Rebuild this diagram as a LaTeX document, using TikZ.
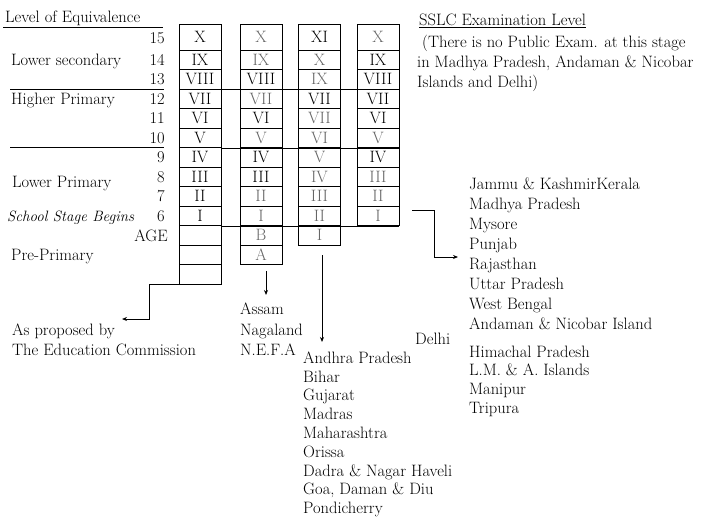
\documentclass[tikz,border=0pt]{standalone}
\usetikzlibrary{arrows.meta}
\begin{document}
\begin{tikzpicture}[x=1pt,y=-1pt,
  every node/.style={font=\fontsize{16.5}{19.5}\selectfont},
  cell/.style={draw,line width=0.9pt,minimum width=42pt,minimum height=19.5pt,inner sep=0pt},
  topcell/.style={cell,minimum height=26pt},
  dim/.style={text=black!60},
  lbl/.style={inner sep=0pt},
  rule/.style={line width=0.9pt},
  arr/.style={line width=0.9pt,-{Stealth[length=5pt,width=4pt]}}]
\useasboundingbox (0,0) rectangle (709,519);
            % Levels
\node[lbl,anchor=base west] (loe) at (5,22.5) {Level of Equivalence};
\node[lbl,anchor=base west] (ls) at (11,66) {Lower secondary};
\node[lbl,anchor=base west] (hp) at (11,104.5) {Higher Primary};
\node[lbl,anchor=base west] (lp) at (12,187) {Lower Primary};
\node[lbl,anchor=base west,font=\fontsize{15}{18}\selectfont\itshape] (ssb) at (7,221.5) {School Stage Begins};
\node[lbl,anchor=base west] (pp) at (11,260) {Pre-Primary};
\node[lbl,anchor=base east] (n15) at (165,44) {15};
\node[lbl,anchor=base east] (n14) at (165,65.5) {14};
\node[lbl,anchor=base east] (n13) at (165,84.5) {13};
\node[lbl,anchor=base east] (n12) at (165,104) {12};
\node[lbl,anchor=base east] (n11) at (165,123.5) {11};
\node[lbl,anchor=base east] (n10) at (165,143) {10};
\node[lbl,anchor=base east] (n9) at (165,162.5) {9};
\node[lbl,anchor=base east] (n8) at (165,182) {8};
\node[lbl,anchor=base east] (n7) at (165,201.5) {7};
\node[lbl,anchor=base east] (n6) at (165,221) {6};
\node[lbl,anchor=base east] (age) at (168,241) {AGE};
%Education Commission
\node[topcell] (a15) at (200,37) {X};
\node[cell] (a14) at (200,59.75) {IX};
\node[cell] (a13) at (200,79.25) {VIII};
\node[cell] (a12) at (200,98.75) {VII};
\node[cell] (a11) at (200,118.25) {VI};
\node[cell] (a10) at (200,137.75) {V};
\node[cell] (a9) at (200,157.25) {IV};
\node[cell] (a8) at (200,176.75) {III};
\node[cell] (a7) at (200,196.25) {II};
\node[cell] (a6) at (200,215.75) {I};
\node[cell] (a5) at (200,235.25) {};
\node[cell] (a4) at (200,254.75) {};
\node[cell] (a3) at (200,274.25) {};
%Assam
\node[topcell,dim] (b15) at (261,37) {X};
\node[cell,dim] (b14) at (261,59.75) {IX};
\node[cell] (b13) at (261,79.25) {VIII};
\node[cell,dim] (b12) at (261,98.75) {VII};
\node[cell] (b11) at (261,118.25) {VI};
\node[cell,dim] (b10) at (261,137.75) {V};
\node[cell] (b9) at (261,157.25) {IV};
\node[cell] (b8) at (261,176.75) {III};
\node[cell,dim] (b7) at (261,196.25) {II};
\node[cell,dim] (b6) at (261,215.75) {I};
\node[cell,dim] (b5) at (261,235.25) {B};
\node[cell,dim] (b4) at (261,254.75) {A};
%Andhra Pradesh
\node[topcell] (c15) at (319.5,37) {XI};
\node[cell,dim] (c14) at (319.5,59.75) {X};
\node[cell,dim] (c13) at (319.5,79.25) {IX};
\node[cell] (c12) at (319.5,98.75) {VII};
\node[cell,dim] (c11) at (319.5,118.25) {VII};
\node[cell,dim] (c10) at (319.5,137.75) {VI};
\node[cell,dim] (c9) at (319.5,157.25) {V};
\node[cell,dim] (c8) at (319.5,176.75) {IV};
\node[cell,dim] (c7) at (319.5,196.25) {III};
\node[cell,dim] (c6) at (319.5,215.75) {II};
\node[cell,dim] (c5) at (319.5,235.25) {I};
%Jammu & Kashmir
\node[topcell,dim] (d15) at (378,37) {X};
\node[cell] (d14) at (378,59.75) {IX};
\node[cell] (d13) at (378,79.25) {VIII};
\node[cell] (d12) at (378,98.75) {VII};
\node[cell] (d11) at (378,118.25) {VI};
\node[cell,dim] (d10) at (378,137.75) {V};
\node[cell] (d9) at (378,157.25) {IV};
\node[cell,dim] (d8) at (378,176.75) {III};
\node[cell,dim] (d7) at (378,196.25) {II};
\node[cell,dim] (d6) at (378,215.75) {I};
%Rules
\draw[rule] (3,27) -- (163,27);
\draw[rule] (10,89) -- (164,89);
\draw[rule] (10,147.5) -- (164,147.5);
\draw[rule] (a13.south east) -- (d13.south east);
\draw[rule] (a10.south east) -- (d10.south east);
\draw[rule] (a6.south east) -- (d6.south east);
%SSLC
\node[lbl,anchor=base west] (sslc) at (419,25.5) {\underline{SSLC Examination Level}};
\node[lbl,anchor=north west,align=left,font=\fontsize{16.5}{20}\selectfont] (note) at (417,35)
  {\hspace*{5pt}(There is no Public Exam. at this stage\\in Madhya Pradesh, Andaman \& Nicobar\\Islands and Delhi)};
%States
\node[lbl,anchor=north west,align=left,font=\fontsize{16.5}{20}\selectfont] (edc) at (12,323.5)
  {As proposed by\\The Education Commission};
\node[lbl,anchor=north west,align=left,font=\fontsize{16.5}{20.5}\selectfont] (asm) at (240,302.7)
  {Assam\\Nagaland\\N.E.F.A};
\node[lbl,anchor=north west,align=left,font=\fontsize{16.5}{18.8}\selectfont] (apr) at (303,351.5)
  {Andhra Pradesh\\Bihar\\Gujarat\\Madras\\Maharashtra\\Orissa\\Dadra \& Nagar Haveli\\Goa, Daman \& Diu\\Pondicherry};
\node[lbl,anchor=base west] (dlh) at (415,344) {Delhi};
\node[lbl,anchor=north west,align=left,font=\fontsize{16.5}{20}\selectfont] (jkk) at (469,177.2)
  {Jammu \& KashmirKerala\\Madhya Pradesh\\Mysore\\Punjab\\Rajasthan\\Uttar Pradesh\\West Bengal\\Andaman \& Nicobar Island};
\node[lbl,anchor=north west,align=left,font=\fontsize{16.5}{18.8}\selectfont] (hmp) at (469,345.5)
  {Himachal Pradesh\\L.M. \& A. Islands\\Manipur\\Tripura};
%Arrows
\coordinate (t1) at (122,319);
\coordinate (t2) at (266,295);
\coordinate (t3) at (322,342);
\coordinate (t4) at (458,257);
\draw[arr] (a3.south west) -- ++(-29,0) |- (t1);
\draw[arr] (b4.south) ++(5,6) -- (t2);
\draw[arr] (c5.south) ++(2.5,10) -- (t3);
\draw[arr] (d6.east) ++(13,-5) -- ++(22,0) |- (t4);

          \end{tikzpicture}
\end{document}
